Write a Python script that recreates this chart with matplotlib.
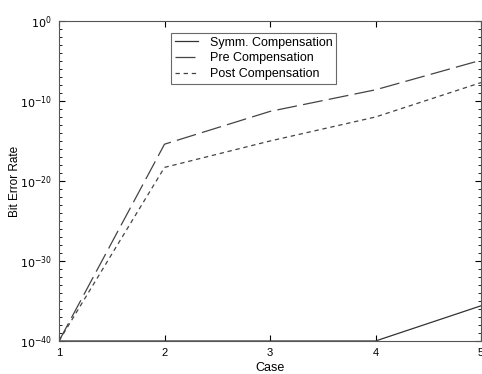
import numpy as np
import matplotlib.pyplot as plt
from matplotlib.ticker import FixedLocator, NullFormatter

plt.rcParams['font.family'] = ['Liberation Sans', 'DejaVu Sans']

cases = [1, 2, 3, 4, 5]
# log10 of the bit error rate
symm_log = [-40, -40, -40, -40, -35.6]
pre_log = [-40, -15.4, -11.3, -8.6, -4.9]
post_log = [-40, -18.3, -15.0, -12.0, -7.7]

symm = 10.0 ** np.array(symm_log)
pre = 10.0 ** np.array(pre_log)
post = 10.0 ** np.array(post_log)

fig = plt.figure(figsize=(4.82, 3.74), dpi=100)
ax = fig.add_axes([59 / 482, 1 - 341 / 374, (481 - 59) / 482, (341 - 21) / 374])

ax.semilogy(cases, symm, color='#333333', lw=0.9, ls='-', label='Symm. Compensation')
ax.semilogy(cases, pre, color='#444444', lw=0.9, ls=(0, (16, 5)), label='Pre Compensation')
ax.semilogy(cases, post, color='#444444', lw=0.9, ls=(0, (3.5, 3)), label='Post Compensation')

ax.set_xlim(1, 5)
ax.set_ylim(1e-40, 1e0)
ax.set_xticks(cases)
major = [10.0 ** e for e in range(-40, 1, 10)]
ax.yaxis.set_major_locator(FixedLocator(major))
ax.set_yticklabels(['$10^{%d}$' % e for e in range(-40, 1, 10)])
ax.yaxis.set_minor_locator(FixedLocator([10.0 ** e for e in range(-40, 1)]))
ax.yaxis.set_minor_formatter(NullFormatter())

ax.tick_params(which='both', direction='in', top=True, right=True, labelsize=8, pad=5)
ax.tick_params(which='major', length=4)
ax.tick_params(which='minor', length=2)
for s in ax.spines.values():
    s.set_color('#555555')
    s.set_linewidth(0.8)

ax.set_xlabel('Case', fontsize=9)
ax.xaxis.set_label_coords(0.5, -0.065)
ax.set_ylabel('Bit Error Rate', fontsize=8.5)
ax.yaxis.set_label_coords(-0.09, 0.5)

leg = ax.legend(loc='upper left', bbox_to_anchor=(0.265, 0.963), borderaxespad=0,
                fontsize=9, frameon=True, fancybox=False, edgecolor='#444444',
                handlelength=1.9, handletextpad=0.9, borderpad=0.3, labelspacing=0.3)
leg.get_frame().set_linewidth(0.8)

fig.savefig('out.png', dpi=100)
